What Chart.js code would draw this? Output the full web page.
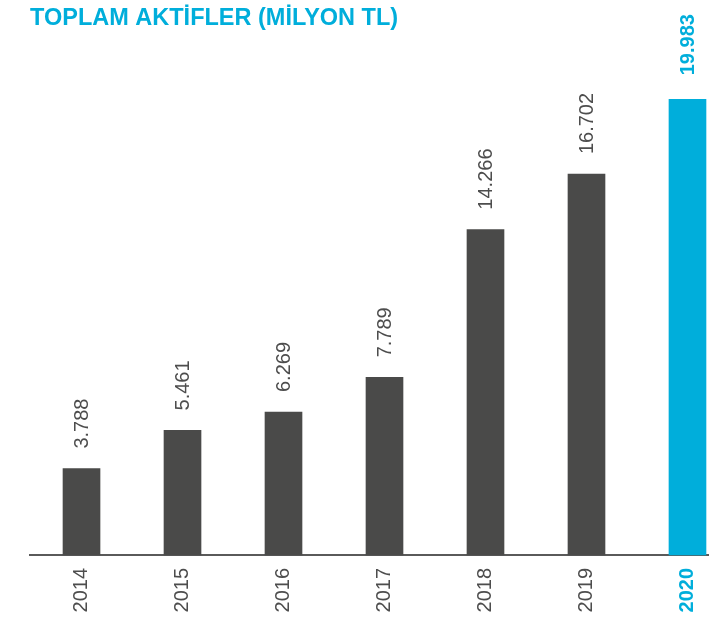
<!DOCTYPE html>
<html>
<head>
<meta charset="utf-8">
<script src="https://cdn.jsdelivr.net/npm/chart.js@4.4.1/dist/chart.umd.min.js"></script>
<style>
  html, body { margin: 0; padding: 0; background: #fff; overflow: hidden; }
  #wrap { position: relative; width: 709px; height: 618px; }
</style>
</head>
<body>
<div id="wrap"><canvas id="assetsChart"></canvas></div>
<script>
// Toplam aktifler (milyon TL)
const years = ['2014', '2015', '2016', '2017', '2018', '2019', '2020'];
const assets = [3788, 5461, 6269, 7789, 14266, 16702, 19983];
const valueLabels = ['3.788', '5.461', '6.269', '7.789', '14.266', '16.702', '19.983'];

const GRAY = '#4a4a49';
const CYAN = '#00aedb';
const LAST = years.length - 1;

// value labels written upward above each bar
const barLabels = {
  id: 'barLabels',
  afterDatasetsDraw(chart) {
    const ctx = chart.ctx;
    const meta = chart.getDatasetMeta(0);
    meta.data.forEach((bar, i) => {
      const last = i === LAST;
      ctx.save();
      ctx.translate(bar.x, bar.y - (last ? 24 : 20));
      ctx.rotate(-Math.PI / 2);
      ctx.font = (last ? 'bold ' : '') + '20px "Liberation Sans", Arial, sans-serif';
      ctx.fillStyle = last ? CYAN : '#4d4d4d';
      ctx.textAlign = 'left';
      ctx.textBaseline = 'middle';
      ctx.fillText(valueLabels[i], 0, 1);
      ctx.restore();
    });
  }
};

const ctx = document.getElementById('assetsChart');

new Chart(ctx, {
  type: 'bar',
  data: {
    datasets: [{
      data: assets.map((v, i) => ({ x: i, y: v })),
      backgroundColor: assets.map((v, i) => i === LAST ? CYAN : GRAY),
      borderWidth: 0,
      barThickness: 37,
      clip: false
    }]
  },
  options: {
    responsive: true,
    maintainAspectRatio: false,
    animation: false,
    layout: {
      padding: { left: 30, right: 0, top: 0, bottom: 0 }
    },
    plugins: {
      legend: { display: false },
      tooltip: { enabled: false },
      title: {
        display: true,
        text: 'TOPLAM AKTİFLER (MİLYON TL)',
        align: 'start',
        color: CYAN,
        font: { family: '"Liberation Sans", Arial, sans-serif', size: 23.5, weight: 'bold' },
        padding: { top: 4, bottom: 6 }
      }
    },
    scales: {
      x: {
        type: 'linear',
        offset: false,
        min: -0.51,
        max: 6.213,
        afterBuildTicks: (axis) => {
          axis.ticks = years.map((y, i) => ({ value: i }));
        },
        afterFit: (axis) => {
          axis.height = 63;
          axis.paddingLeft = 0;
          axis.paddingRight = 0;
        },
        grid: { display: false, drawTicks: false, offset: false },
        border: { display: true, color: '#5a5a5a', width: 2 },
        ticks: {
          autoSkip: false,
          minRotation: 90,
          maxRotation: 90,
          padding: 13,
          callback: (value) => years[value],
          color: (c) => c.tick && c.tick.value === LAST ? CYAN : '#4d4d4d',
          font: (c) => ({
            family: '"Liberation Sans", Arial, sans-serif',
            size: 20,
            weight: c.tick && c.tick.value === LAST ? 'bold' : 'normal'
          })
        }
      },
      y: {
        display: false,
        min: 0,
        max: 22660
      }
    }
  },
  plugins: [barLabels]
});
</script>
</body>
</html>
